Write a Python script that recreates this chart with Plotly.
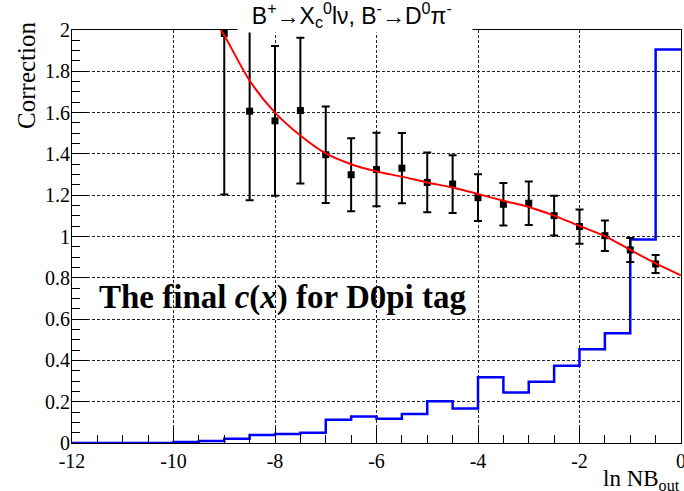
import plotly.graph_objects as go

# ---------------- data ----------------
# histogram (blue): 24 bins of width 0.5 from -12 to 0
bin_low_edges = [-12.0, -11.5, -11.0, -10.5, -10.0, -9.5, -9.0, -8.5, -8.0, -7.5, -7.0, -6.5,
                 -6.0, -5.5, -5.0, -4.5, -4.0, -3.5, -3.0, -2.5, -2.0, -1.5, -1.0, -0.5]
bin_upper_edge = 0.0
hist_values = [0.0, 0.0, 0.0, 0.0, 0.005, 0.01, 0.021, 0.039, 0.044, 0.05, 0.112, 0.128,
               0.117, 0.141, 0.202, 0.167, 0.319, 0.244, 0.297, 0.374, 0.454, 0.532, 0.985, 1.905]

# correction points with errors (black)
pts_x = [-9.0, -8.5, -8.0, -7.5, -7.0, -6.5, -6.0, -5.5, -5.0, -4.5, -4.0, -3.5,
         -3.0, -2.5, -2.0, -1.5, -1.0, -0.5]
pts_y = [1.983, 1.607, 1.560, 1.610, 1.396, 1.299, 1.324, 1.331, 1.262, 1.254, 1.188, 1.156,
         1.161, 1.101, 1.048, 1.004, 0.935, 0.867]
pts_err = [0.78, 0.432, 0.363, 0.353, 0.234, 0.177, 0.178, 0.170, 0.145, 0.140, 0.113, 0.103,
           0.105, 0.096, 0.083, 0.074, 0.058, 0.044]

# fitted curve (red)
fit_x = [-9.07, -9.0, -8.5, -8.0, -7.5, -7.0, -6.5, -6.0, -5.5, -5.0, -4.5, -4.0,
         -3.5, -3.0, -2.5, -2.0, -1.5, -1.0, -0.5, 0.0]
fit_y = [2.0, 1.975, 1.755, 1.600, 1.489, 1.402, 1.350, 1.315, 1.290, 1.262, 1.237, 1.206,
         1.173, 1.143, 1.101, 1.051, 1.002, 0.935, 0.870, 0.812]

x_tickvals = [-12, -10, -8, -6, -4, -2, 0]
x_ticktext = ["-12", "-10", "-8", "-6", "-4", "-2", "0"]
y_tickvals = [0, 0.2, 0.4, 0.6, 0.8, 1, 1.2, 1.4, 1.6, 1.8, 2]
y_ticktext = ["0", "0.2", "0.4", "0.6", "0.8", "1", "1.2", "1.4", "1.6", "1.8", "2"]

title_text = ("&nbsp;&nbsp;B<sup>+</sup>→X<sub>c</sub><sup>0</sup>lν, "
              "B<sup>-</sup>→D<sup>0</sup>π<sup>-</sup>&nbsp;&nbsp;&nbsp;")
ytitle_text = "Correction"
xtitle_text = "ln NB<sub>out</sub>"
note_text = "<b>The final <i>c</i>(<i>x</i>) for D0pi tag</b>"

# ---------------- figure ----------------
SERIF = "Liberation Serif"
SANS = "Liberation Sans"

fig = go.Figure()

hx = list(bin_low_edges) + [bin_upper_edge]
hy = list(hist_values) + [hist_values[-1]]
fig.add_trace(go.Scatter(x=hx, y=hy, mode="lines", line=dict(color="#0000ff", width=2.5, shape="hv"),
                         showlegend=False, hoverinfo="skip"))

fig.add_trace(go.Scatter(x=pts_x, y=pts_y, mode="markers",
                         marker=dict(symbol="square", size=7, color="black"),
                         error_y=dict(type="data", array=pts_err, visible=True, color="black",
                                      thickness=2, width=4),
                         showlegend=False))

fig.add_trace(go.Scatter(x=fit_x, y=fit_y, mode="lines",
                         line=dict(color="#ff0000", width=2, shape="spline", smoothing=0.8),
                         showlegend=False))

axis_common = dict(
    showline=True, linecolor="black", linewidth=1.2, mirror=True,
    ticks="inside", tickcolor="black", tickwidth=1,
    showgrid=True, gridcolor="#222222", gridwidth=1, griddash="3px,2px",
    zeroline=False, ticklabeloverflow="allow", automargin=False,
    tickfont=dict(family=SERIF, size=20, color="black"),
)

fig.update_xaxes(range=[-12, 0], tickvals=x_tickvals, ticktext=x_ticktext, ticklen=15,
                 minor=dict(dtick=0.5, tick0=-12, ticklen=8, ticks="inside", tickcolor="black", showgrid=False),
                 **axis_common)
fig.update_yaxes(range=[0, 2], tickvals=y_tickvals, ticktext=y_ticktext, ticklen=15,
                 ticklabelstandoff=-3,
                 minor=dict(dtick=0.05, tick0=0, ticklen=8, ticks="inside", tickcolor="black", showgrid=False),
                 **axis_common)

fig.update_layout(
    width=684, height=491,
    margin=dict(l=72, r=3, t=30, b=48, autoexpand=False),
    paper_bgcolor="white", plot_bgcolor="white",
    annotations=[
        dict(text=title_text, xref="paper", yref="paper", x=0.465, y=1.036,
             xanchor="center", yanchor="middle", showarrow=False, bgcolor="white",
             font=dict(family=SANS, size=23, color="black")),
        dict(text=ytitle_text, xref="paper", yref="paper", x=-0.075, y=1.024,
             xanchor="center", yanchor="top", textangle=-90, showarrow=False,
             font=dict(family=SERIF, size=25, color="black")),
        dict(text=xtitle_text, xref="paper", yref="paper", x=1.002, y=-0.051,
             xanchor="right", yanchor="top", showarrow=False,
             font=dict(family=SERIF, size=23, color="black")),
        dict(text=note_text, xref="paper", yref="paper", x=0.041, y=0.3535,
             xanchor="left", yanchor="middle", showarrow=False,
             font=dict(family=SERIF, size=33, color="black")),
    ],
)

fig.write_html("out.html")
